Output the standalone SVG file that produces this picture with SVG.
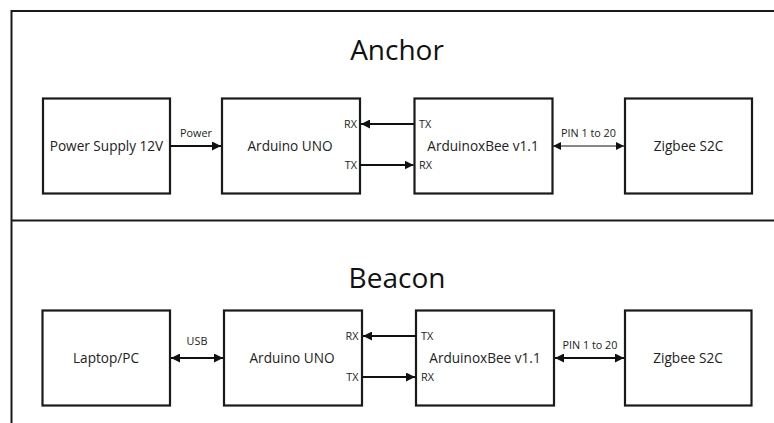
<svg xmlns="http://www.w3.org/2000/svg" width="774" height="423" viewBox="0 0 774 423">
<defs>
<style>
.frame{fill:none;stroke:#1a1a1a;stroke-width:2}
.box{fill:#fff;stroke:#1a1a1a;stroke-width:2.2}
.lbl{font-family:"Open Sans","Liberation Sans",sans-serif;font-size:13.6px;fill:#222;text-anchor:middle}
.pin{font-family:"Open Sans","Liberation Sans",sans-serif;font-size:10.8px;fill:#222}
.title{font-family:"Open Sans","Liberation Sans",sans-serif;font-size:28px;fill:#111;text-anchor:middle}
.conn{fill:none;stroke:#111;stroke-width:2}
.thin{fill:none;stroke:#111;stroke-width:1}
</style>
<marker id="ah" viewBox="0 0 10 10" refX="10" refY="5" markerWidth="4.5" markerHeight="4.5" orient="auto-start-reverse" markerUnits="strokeWidth">
<path d="M0,0 L10,5 L0,10 z" fill="#111"/>
</marker>
<marker id="ahs" viewBox="0 0 10 10" refX="10" refY="5" markerWidth="8" markerHeight="8" orient="auto-start-reverse" markerUnits="strokeWidth">
<path d="M0,0 L10,5 L0,10 z" fill="#111"/>
</marker>
</defs>
<rect width="774" height="423" fill="#fff"/>
<g id="frame">
<path class="frame" d="M776,11 H11.5 V425"/>
<path class="frame" d="M11.5,220.5 H776" stroke-width="3"/>
</g>
<text class="title" x="397" y="60">Anchor</text>
<text class="title" x="397" y="288">Beacon</text>
<g id="a-power">
<rect class="box" x="43" y="98.5" width="127" height="95"/>
<text class="lbl" x="106.5" y="151">Power Supply 12V</text>
</g>
<g id="a-uno">
<rect class="box" x="222" y="98.5" width="138" height="95"/>
<text class="lbl" x="290" y="151">Arduino UNO</text>
<text class="pin" x="357" y="128" text-anchor="end">RX</text>
<text class="pin" x="357" y="169" text-anchor="end">TX</text>
</g>
<g id="a-xbee">
<rect class="box" x="414.5" y="98.5" width="138" height="95"/>
<text class="lbl" x="483" y="151">ArduinoxBee v1.1</text>
<text class="pin" x="419" y="128">TX</text>
<text class="pin" x="419" y="169">RX</text>
</g>
<g id="a-zigbee">
<rect class="box" x="625" y="98.5" width="127" height="95"/>
<text class="lbl" x="688.5" y="151">Zigbee S2C</text>
</g>
<g id="b-laptop">
<rect class="box" x="42.5" y="310.5" width="127.5" height="95"/>
<text class="lbl" x="106" y="363">Laptop/PC</text>
</g>
<g id="b-uno">
<rect class="box" x="224" y="310.5" width="138" height="95"/>
<text class="lbl" x="292" y="363">Arduino UNO</text>
<text class="pin" x="358.5" y="340" text-anchor="end">RX</text>
<text class="pin" x="358.5" y="381" text-anchor="end">TX</text>
</g>
<g id="b-xbee">
<rect class="box" x="416" y="310.5" width="138" height="95"/>
<text class="lbl" x="485" y="363">ArduinoxBee v1.1</text>
<text class="pin" x="421" y="340">TX</text>
<text class="pin" x="421" y="381">RX</text>
</g>
<g id="b-zigbee">
<rect class="box" x="625" y="310.5" width="126.5" height="95"/>
<text class="lbl" x="688" y="363">Zigbee S2C</text>
</g>
<g id="connectors">
<line class="conn" x1="170" y1="146" x2="221" y2="146" marker-end="url(#ah)"/>
<text class="pin" x="196" y="137" text-anchor="middle">Power</text>
<line class="conn" x1="414" y1="124" x2="361" y2="124" marker-end="url(#ah)"/>
<line class="conn" x1="360" y1="165" x2="413.5" y2="165" marker-end="url(#ah)"/>
<line class="thin" x1="553" y1="146" x2="624" y2="146" marker-start="url(#ahs)" marker-end="url(#ahs)"/>
<text class="pin" x="588.5" y="137" text-anchor="middle">PIN 1 to 20</text>
<line class="conn" x1="171" y1="358" x2="223" y2="358" marker-start="url(#ah)" marker-end="url(#ah)"/>
<text class="pin" x="197" y="345" text-anchor="middle">USB</text>
<line class="conn" x1="416" y1="336" x2="363" y2="336" marker-end="url(#ah)"/>
<line class="conn" x1="362" y1="377" x2="415" y2="377" marker-end="url(#ah)"/>
<line class="conn" x1="555" y1="358" x2="624" y2="358" marker-start="url(#ah)" marker-end="url(#ah)"/>
<text class="pin" x="590" y="349" text-anchor="middle">PIN 1 to 20</text>
</g>
</svg>
